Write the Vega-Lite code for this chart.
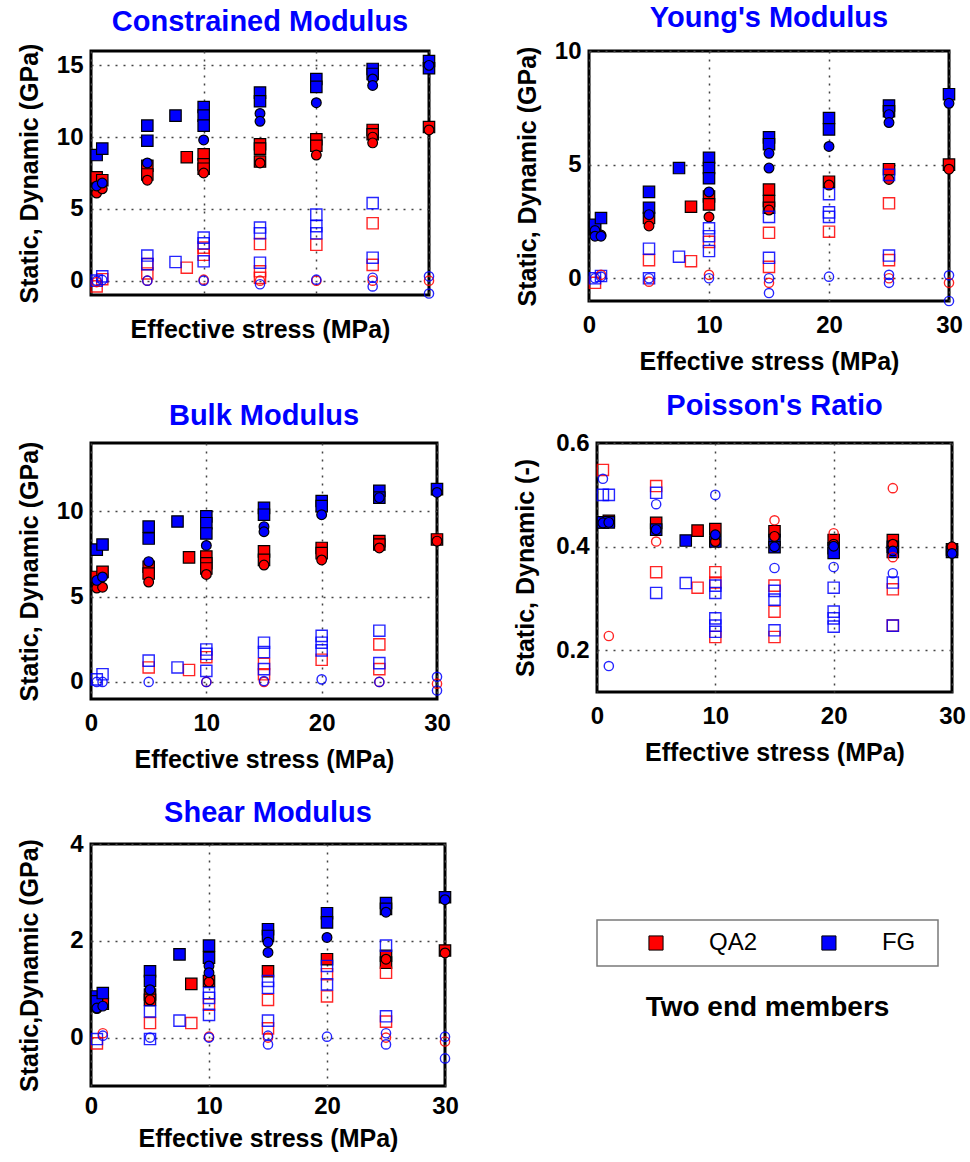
{
 "$schema": "https://vega.github.io/schema/vega-lite/v6.json",
 "padding": {"left": 15, "top": 2, "right": 0, "bottom": 0},
 "background": "white",
 "config": {
  "font": "Liberation Sans",
  "view": {"stroke": "black", "strokeWidth": 3},
  "title": {"fontSize": 29, "fontWeight": "bold", "color": "#0000ff", "offset": 6},
  "axis": {"labelFontSize": 24, "labelFontWeight": "bold", "labelColor": "black", "titleFontSize": 25, "titleFontWeight": "bold", "titleColor": "black", "domain": false, "ticks": false, "grid": true, "gridColor": "#444", "gridDash": [2, 6], "gridWidth": 1.5, "gridOpacity": 1, "labelPadding": 8, "titlePadding": 8, "labelFlush": false, "labelOverlap": false, "labelBound": false},
  "axisY": {"minExtent": 40, "maxExtent": 40, "titlePadding": 9}
 },
 "datasets": {"d": [
  {"p":"C","x":0.5,"y":7.2,"m":"QA2","k":"dsq"},{"p":"C","x":1,"y":7.0,"m":"QA2","k":"dsq"},{"p":"C","x":5,"y":8.0,"m":"QA2","k":"dsq"},{"p":"C","x":5,"y":7.4,"m":"QA2","k":"dsq"},{"p":"C","x":8.5,"y":8.6,"m":"QA2","k":"dsq"},{"p":"C","x":10,"y":8.8,"m":"QA2","k":"dsq"},{"p":"C","x":10,"y":8.1,"m":"QA2","k":"dsq"},{"p":"C","x":10,"y":7.8,"m":"QA2","k":"dsq"},{"p":"C","x":15,"y":9.5,"m":"QA2","k":"dsq"},{"p":"C","x":15,"y":9.2,"m":"QA2","k":"dsq"},{"p":"C","x":15,"y":8.3,"m":"QA2","k":"dsq"},{"p":"C","x":20,"y":9.85,"m":"QA2","k":"dsq"},{"p":"C","x":20,"y":9.4,"m":"QA2","k":"dsq"},{"p":"C","x":25,"y":10.5,"m":"QA2","k":"dsq"},{"p":"C","x":25,"y":10.2,"m":"QA2","k":"dsq"},{"p":"C","x":30,"y":10.7,"m":"QA2","k":"dsq"},
  {"p":"C","x":0.5,"y":6.1,"m":"QA2","k":"dci"},{"p":"C","x":1,"y":6.4,"m":"QA2","k":"dci"},{"p":"C","x":5,"y":7.0,"m":"QA2","k":"dci"},{"p":"C","x":10,"y":7.5,"m":"QA2","k":"dci"},{"p":"C","x":15,"y":8.2,"m":"QA2","k":"dci"},{"p":"C","x":20,"y":8.75,"m":"QA2","k":"dci"},{"p":"C","x":25,"y":10.0,"m":"QA2","k":"dci"},{"p":"C","x":25,"y":9.6,"m":"QA2","k":"dci"},{"p":"C","x":30,"y":10.5,"m":"QA2","k":"dci"},
  {"p":"C","x":0.5,"y":8.75,"m":"FG","k":"dsq"},{"p":"C","x":1,"y":9.2,"m":"FG","k":"dsq"},{"p":"C","x":5,"y":10.8,"m":"FG","k":"dsq"},{"p":"C","x":5,"y":9.75,"m":"FG","k":"dsq"},{"p":"C","x":7.5,"y":11.5,"m":"FG","k":"dsq"},{"p":"C","x":10,"y":12.1,"m":"FG","k":"dsq"},{"p":"C","x":10,"y":11.5,"m":"FG","k":"dsq"},{"p":"C","x":10,"y":10.8,"m":"FG","k":"dsq"},{"p":"C","x":15,"y":13.1,"m":"FG","k":"dsq"},{"p":"C","x":15,"y":12.5,"m":"FG","k":"dsq"},{"p":"C","x":20,"y":14.05,"m":"FG","k":"dsq"},{"p":"C","x":20,"y":13.5,"m":"FG","k":"dsq"},{"p":"C","x":25,"y":14.75,"m":"FG","k":"dsq"},{"p":"C","x":25,"y":14.4,"m":"FG","k":"dsq"},{"p":"C","x":30,"y":15.3,"m":"FG","k":"dsq"},{"p":"C","x":30,"y":14.8,"m":"FG","k":"dsq"},
  {"p":"C","x":0.5,"y":6.6,"m":"FG","k":"dci"},{"p":"C","x":1,"y":6.8,"m":"FG","k":"dci"},{"p":"C","x":5,"y":8.2,"m":"FG","k":"dci"},{"p":"C","x":10,"y":9.8,"m":"FG","k":"dci"},{"p":"C","x":15,"y":11.65,"m":"FG","k":"dci"},{"p":"C","x":15,"y":11.1,"m":"FG","k":"dci"},{"p":"C","x":20,"y":12.4,"m":"FG","k":"dci"},{"p":"C","x":25,"y":14.05,"m":"FG","k":"dci"},{"p":"C","x":25,"y":13.6,"m":"FG","k":"dci"},{"p":"C","x":30,"y":15.0,"m":"FG","k":"dci"},
  {"p":"C","x":0.5,"y":-0.4,"m":"QA2","k":"ssq"},{"p":"C","x":1,"y":0.1,"m":"QA2","k":"ssq"},{"p":"C","x":5,"y":1.15,"m":"QA2","k":"ssq"},{"p":"C","x":5,"y":0.5,"m":"QA2","k":"ssq"},{"p":"C","x":8.5,"y":0.9,"m":"QA2","k":"ssq"},{"p":"C","x":10,"y":2.3,"m":"QA2","k":"ssq"},{"p":"C","x":10,"y":1.8,"m":"QA2","k":"ssq"},{"p":"C","x":15,"y":2.55,"m":"QA2","k":"ssq"},{"p":"C","x":15,"y":0.65,"m":"QA2","k":"ssq"},{"p":"C","x":15,"y":0.2,"m":"QA2","k":"ssq"},{"p":"C","x":20,"y":2.5,"m":"QA2","k":"ssq"},{"p":"C","x":25,"y":4.0,"m":"QA2","k":"ssq"},{"p":"C","x":25,"y":1.1,"m":"QA2","k":"ssq"},
  {"p":"C","x":0.5,"y":0.0,"m":"FG","k":"ssq"},{"p":"C","x":1,"y":0.3,"m":"FG","k":"ssq"},{"p":"C","x":5,"y":1.75,"m":"FG","k":"ssq"},{"p":"C","x":5,"y":1.15,"m":"FG","k":"ssq"},{"p":"C","x":7.5,"y":1.3,"m":"FG","k":"ssq"},{"p":"C","x":10,"y":3.0,"m":"FG","k":"ssq"},{"p":"C","x":10,"y":2.6,"m":"FG","k":"ssq"},{"p":"C","x":10,"y":1.35,"m":"FG","k":"ssq"},{"p":"C","x":15,"y":3.7,"m":"FG","k":"ssq"},{"p":"C","x":15,"y":3.3,"m":"FG","k":"ssq"},{"p":"C","x":15,"y":1.25,"m":"FG","k":"ssq"},{"p":"C","x":20,"y":4.6,"m":"FG","k":"ssq"},{"p":"C","x":20,"y":3.8,"m":"FG","k":"ssq"},{"p":"C","x":20,"y":3.3,"m":"FG","k":"ssq"},{"p":"C","x":25,"y":5.4,"m":"FG","k":"ssq"},{"p":"C","x":25,"y":1.6,"m":"FG","k":"ssq"},
  {"p":"C","x":0.5,"y":-0.1,"m":"QA2","k":"sci"},{"p":"C","x":5,"y":0.0,"m":"QA2","k":"sci"},{"p":"C","x":10,"y":0.07,"m":"QA2","k":"sci"},{"p":"C","x":15,"y":0.0,"m":"QA2","k":"sci"},{"p":"C","x":20,"y":0.0,"m":"QA2","k":"sci"},{"p":"C","x":25,"y":0.0,"m":"QA2","k":"sci"},{"p":"C","x":30,"y":0.0,"m":"QA2","k":"sci"},
  {"p":"C","x":0.5,"y":0.0,"m":"FG","k":"sci"},{"p":"C","x":1,"y":0.05,"m":"FG","k":"sci"},{"p":"C","x":5,"y":0.0,"m":"FG","k":"sci"},{"p":"C","x":10,"y":0.0,"m":"FG","k":"sci"},{"p":"C","x":15,"y":-0.25,"m":"FG","k":"sci"},{"p":"C","x":20,"y":0.07,"m":"FG","k":"sci"},{"p":"C","x":25,"y":0.2,"m":"FG","k":"sci"},{"p":"C","x":25,"y":-0.4,"m":"FG","k":"sci"},{"p":"C","x":30,"y":0.3,"m":"FG","k":"sci"},{"p":"C","x":30,"y":-0.9,"m":"FG","k":"sci"},

  {"p":"Y","x":0.5,"y":2.2,"m":"QA2","k":"dsq"},{"p":"Y","x":5,"y":2.65,"m":"QA2","k":"dsq"},{"p":"Y","x":8.5,"y":3.15,"m":"QA2","k":"dsq"},{"p":"Y","x":10,"y":3.6,"m":"QA2","k":"dsq"},{"p":"Y","x":10,"y":3.25,"m":"QA2","k":"dsq"},{"p":"Y","x":15,"y":3.9,"m":"QA2","k":"dsq"},{"p":"Y","x":15,"y":3.4,"m":"QA2","k":"dsq"},{"p":"Y","x":15,"y":3.1,"m":"QA2","k":"dsq"},{"p":"Y","x":20,"y":4.25,"m":"QA2","k":"dsq"},{"p":"Y","x":25,"y":4.8,"m":"QA2","k":"dsq"},{"p":"Y","x":30,"y":5.0,"m":"QA2","k":"dsq"},
  {"p":"Y","x":0.5,"y":2.0,"m":"QA2","k":"dci"},{"p":"Y","x":1,"y":1.9,"m":"QA2","k":"dci"},{"p":"Y","x":5,"y":2.3,"m":"QA2","k":"dci"},{"p":"Y","x":10,"y":2.7,"m":"QA2","k":"dci"},{"p":"Y","x":15,"y":3.0,"m":"QA2","k":"dci"},{"p":"Y","x":20,"y":4.1,"m":"QA2","k":"dci"},{"p":"Y","x":25,"y":4.35,"m":"QA2","k":"dci"},{"p":"Y","x":30,"y":4.8,"m":"QA2","k":"dci"},
  {"p":"Y","x":0.5,"y":2.35,"m":"FG","k":"dsq"},{"p":"Y","x":1,"y":2.65,"m":"FG","k":"dsq"},{"p":"Y","x":5,"y":3.8,"m":"FG","k":"dsq"},{"p":"Y","x":5,"y":3.1,"m":"FG","k":"dsq"},{"p":"Y","x":7.5,"y":4.85,"m":"FG","k":"dsq"},{"p":"Y","x":10,"y":5.3,"m":"FG","k":"dsq"},{"p":"Y","x":10,"y":4.85,"m":"FG","k":"dsq"},{"p":"Y","x":10,"y":4.4,"m":"FG","k":"dsq"},{"p":"Y","x":15,"y":6.2,"m":"FG","k":"dsq"},{"p":"Y","x":15,"y":5.9,"m":"FG","k":"dsq"},{"p":"Y","x":20,"y":7.05,"m":"FG","k":"dsq"},{"p":"Y","x":20,"y":6.55,"m":"FG","k":"dsq"},{"p":"Y","x":25,"y":7.6,"m":"FG","k":"dsq"},{"p":"Y","x":25,"y":7.35,"m":"FG","k":"dsq"},{"p":"Y","x":30,"y":8.1,"m":"FG","k":"dsq"},
  {"p":"Y","x":0.5,"y":2.1,"m":"FG","k":"dci"},{"p":"Y","x":0.5,"y":1.85,"m":"FG","k":"dci"},{"p":"Y","x":1,"y":1.85,"m":"FG","k":"dci"},{"p":"Y","x":5,"y":2.8,"m":"FG","k":"dci"},{"p":"Y","x":10,"y":3.8,"m":"FG","k":"dci"},{"p":"Y","x":15,"y":5.5,"m":"FG","k":"dci"},{"p":"Y","x":15,"y":4.85,"m":"FG","k":"dci"},{"p":"Y","x":20,"y":5.8,"m":"FG","k":"dci"},{"p":"Y","x":25,"y":7.2,"m":"FG","k":"dci"},{"p":"Y","x":25,"y":6.85,"m":"FG","k":"dci"},{"p":"Y","x":30,"y":7.7,"m":"FG","k":"dci"},
  {"p":"Y","x":0.5,"y":-0.2,"m":"QA2","k":"ssq"},{"p":"Y","x":5,"y":0.8,"m":"QA2","k":"ssq"},{"p":"Y","x":8.5,"y":0.75,"m":"QA2","k":"ssq"},{"p":"Y","x":10,"y":1.6,"m":"QA2","k":"ssq"},{"p":"Y","x":15,"y":2.0,"m":"QA2","k":"ssq"},{"p":"Y","x":15,"y":0.5,"m":"QA2","k":"ssq"},{"p":"Y","x":20,"y":2.05,"m":"QA2","k":"ssq"},{"p":"Y","x":25,"y":3.3,"m":"QA2","k":"ssq"},{"p":"Y","x":25,"y":0.8,"m":"QA2","k":"ssq"},
  {"p":"Y","x":0.5,"y":0.0,"m":"FG","k":"ssq"},{"p":"Y","x":1,"y":0.1,"m":"FG","k":"ssq"},{"p":"Y","x":5,"y":1.3,"m":"FG","k":"ssq"},{"p":"Y","x":5,"y":0.0,"m":"FG","k":"ssq"},{"p":"Y","x":7.5,"y":0.95,"m":"FG","k":"ssq"},{"p":"Y","x":10,"y":2.2,"m":"FG","k":"ssq"},{"p":"Y","x":10,"y":1.85,"m":"FG","k":"ssq"},{"p":"Y","x":10,"y":1.2,"m":"FG","k":"ssq"},{"p":"Y","x":15,"y":2.7,"m":"FG","k":"ssq"},{"p":"Y","x":15,"y":0.9,"m":"FG","k":"ssq"},{"p":"Y","x":20,"y":3.7,"m":"FG","k":"ssq"},{"p":"Y","x":20,"y":2.9,"m":"FG","k":"ssq"},{"p":"Y","x":20,"y":2.7,"m":"FG","k":"ssq"},{"p":"Y","x":25,"y":4.55,"m":"FG","k":"ssq"},{"p":"Y","x":25,"y":1.0,"m":"FG","k":"ssq"},
  {"p":"Y","x":1,"y":0.15,"m":"QA2","k":"sci"},{"p":"Y","x":5,"y":-0.15,"m":"QA2","k":"sci"},{"p":"Y","x":10,"y":0.15,"m":"QA2","k":"sci"},{"p":"Y","x":15,"y":-0.2,"m":"QA2","k":"sci"},{"p":"Y","x":25,"y":0.0,"m":"QA2","k":"sci"},{"p":"Y","x":30,"y":-0.2,"m":"QA2","k":"sci"},
  {"p":"Y","x":0.5,"y":0.0,"m":"FG","k":"sci"},{"p":"Y","x":1,"y":0.07,"m":"FG","k":"sci"},{"p":"Y","x":5,"y":0.0,"m":"FG","k":"sci"},{"p":"Y","x":10,"y":0.0,"m":"FG","k":"sci"},{"p":"Y","x":15,"y":0.0,"m":"FG","k":"sci"},{"p":"Y","x":15,"y":-0.65,"m":"FG","k":"sci"},{"p":"Y","x":20,"y":0.07,"m":"FG","k":"sci"},{"p":"Y","x":25,"y":0.15,"m":"FG","k":"sci"},{"p":"Y","x":25,"y":-0.2,"m":"FG","k":"sci"},{"p":"Y","x":30,"y":0.13,"m":"FG","k":"sci"},{"p":"Y","x":30,"y":-1.0,"m":"FG","k":"sci"},

  {"p":"B","x":0.5,"y":6.15,"m":"QA2","k":"dsq"},{"p":"B","x":1,"y":6.45,"m":"QA2","k":"dsq"},{"p":"B","x":5,"y":6.75,"m":"QA2","k":"dsq"},{"p":"B","x":5,"y":6.35,"m":"QA2","k":"dsq"},{"p":"B","x":8.5,"y":7.3,"m":"QA2","k":"dsq"},{"p":"B","x":10,"y":7.35,"m":"QA2","k":"dsq"},{"p":"B","x":10,"y":6.95,"m":"QA2","k":"dsq"},{"p":"B","x":10,"y":6.65,"m":"QA2","k":"dsq"},{"p":"B","x":15,"y":7.65,"m":"QA2","k":"dsq"},{"p":"B","x":15,"y":7.15,"m":"QA2","k":"dsq"},{"p":"B","x":20,"y":7.85,"m":"QA2","k":"dsq"},{"p":"B","x":20,"y":7.55,"m":"QA2","k":"dsq"},{"p":"B","x":25,"y":8.25,"m":"QA2","k":"dsq"},{"p":"B","x":25,"y":8.05,"m":"QA2","k":"dsq"},{"p":"B","x":30,"y":8.35,"m":"QA2","k":"dsq"},
  {"p":"B","x":0.5,"y":5.75,"m":"QA2","k":"dci"},{"p":"B","x":0.5,"y":5.5,"m":"QA2","k":"dci"},{"p":"B","x":1,"y":5.55,"m":"QA2","k":"dci"},{"p":"B","x":5,"y":5.85,"m":"QA2","k":"dci"},{"p":"B","x":10,"y":6.3,"m":"QA2","k":"dci"},{"p":"B","x":15,"y":6.85,"m":"QA2","k":"dci"},{"p":"B","x":20,"y":7.15,"m":"QA2","k":"dci"},{"p":"B","x":25,"y":7.85,"m":"QA2","k":"dci"},{"p":"B","x":30,"y":8.25,"m":"QA2","k":"dci"},
  {"p":"B","x":0.5,"y":7.75,"m":"FG","k":"dsq"},{"p":"B","x":1,"y":8.05,"m":"FG","k":"dsq"},{"p":"B","x":5,"y":9.1,"m":"FG","k":"dsq"},{"p":"B","x":5,"y":8.4,"m":"FG","k":"dsq"},{"p":"B","x":7.5,"y":9.4,"m":"FG","k":"dsq"},{"p":"B","x":10,"y":9.7,"m":"FG","k":"dsq"},{"p":"B","x":10,"y":9.3,"m":"FG","k":"dsq"},{"p":"B","x":10,"y":8.7,"m":"FG","k":"dsq"},{"p":"B","x":15,"y":10.2,"m":"FG","k":"dsq"},{"p":"B","x":15,"y":9.8,"m":"FG","k":"dsq"},{"p":"B","x":20,"y":10.6,"m":"FG","k":"dsq"},{"p":"B","x":20,"y":10.3,"m":"FG","k":"dsq"},{"p":"B","x":25,"y":11.2,"m":"FG","k":"dsq"},{"p":"B","x":25,"y":10.8,"m":"FG","k":"dsq"},{"p":"B","x":30,"y":11.3,"m":"FG","k":"dsq"},
  {"p":"B","x":0.5,"y":5.95,"m":"FG","k":"dci"},{"p":"B","x":1,"y":6.15,"m":"FG","k":"dci"},{"p":"B","x":5,"y":7.05,"m":"FG","k":"dci"},{"p":"B","x":10,"y":8.0,"m":"FG","k":"dci"},{"p":"B","x":15,"y":9.1,"m":"FG","k":"dci"},{"p":"B","x":15,"y":8.8,"m":"FG","k":"dci"},{"p":"B","x":20,"y":9.8,"m":"FG","k":"dci"},{"p":"B","x":25,"y":10.8,"m":"FG","k":"dci"},{"p":"B","x":30,"y":11.1,"m":"FG","k":"dci"},
  {"p":"B","x":5,"y":0.85,"m":"QA2","k":"ssq"},{"p":"B","x":8.5,"y":0.7,"m":"QA2","k":"ssq"},{"p":"B","x":10,"y":1.45,"m":"QA2","k":"ssq"},{"p":"B","x":15,"y":1.05,"m":"QA2","k":"ssq"},{"p":"B","x":15,"y":0.45,"m":"QA2","k":"ssq"},{"p":"B","x":20,"y":1.3,"m":"QA2","k":"ssq"},{"p":"B","x":25,"y":2.2,"m":"QA2","k":"ssq"},{"p":"B","x":25,"y":0.75,"m":"QA2","k":"ssq"},
  {"p":"B","x":0.5,"y":0.15,"m":"FG","k":"ssq"},{"p":"B","x":1,"y":0.45,"m":"FG","k":"ssq"},{"p":"B","x":5,"y":1.25,"m":"FG","k":"ssq"},{"p":"B","x":7.5,"y":0.85,"m":"FG","k":"ssq"},{"p":"B","x":10,"y":1.9,"m":"FG","k":"ssq"},{"p":"B","x":10,"y":1.65,"m":"FG","k":"ssq"},{"p":"B","x":10,"y":0.65,"m":"FG","k":"ssq"},{"p":"B","x":15,"y":2.3,"m":"FG","k":"ssq"},{"p":"B","x":15,"y":1.75,"m":"FG","k":"ssq"},{"p":"B","x":15,"y":0.75,"m":"FG","k":"ssq"},{"p":"B","x":20,"y":2.7,"m":"FG","k":"ssq"},{"p":"B","x":20,"y":2.3,"m":"FG","k":"ssq"},{"p":"B","x":20,"y":1.85,"m":"FG","k":"ssq"},{"p":"B","x":25,"y":3.0,"m":"FG","k":"ssq"},{"p":"B","x":25,"y":1.1,"m":"FG","k":"ssq"},
  {"p":"B","x":10,"y":0.0,"m":"QA2","k":"sci"},{"p":"B","x":15,"y":0.0,"m":"QA2","k":"sci"},{"p":"B","x":25,"y":0.0,"m":"QA2","k":"sci"},{"p":"B","x":30,"y":-0.1,"m":"QA2","k":"sci"},
  {"p":"B","x":0.5,"y":0.0,"m":"FG","k":"sci"},{"p":"B","x":1,"y":0.0,"m":"FG","k":"sci"},{"p":"B","x":5,"y":0.0,"m":"FG","k":"sci"},{"p":"B","x":10,"y":0.0,"m":"FG","k":"sci"},{"p":"B","x":15,"y":0.05,"m":"FG","k":"sci"},{"p":"B","x":20,"y":0.15,"m":"FG","k":"sci"},{"p":"B","x":25,"y":0.0,"m":"FG","k":"sci"},{"p":"B","x":30,"y":0.3,"m":"FG","k":"sci"},{"p":"B","x":30,"y":-0.5,"m":"FG","k":"sci"},

  {"p":"P","x":0.5,"y":0.447,"m":"QA2","k":"dsq"},{"p":"P","x":1,"y":0.45,"m":"QA2","k":"dsq"},{"p":"P","x":5,"y":0.446,"m":"QA2","k":"dsq"},{"p":"P","x":8.5,"y":0.431,"m":"QA2","k":"dsq"},{"p":"P","x":10,"y":0.434,"m":"QA2","k":"dsq"},{"p":"P","x":15,"y":0.43,"m":"QA2","k":"dsq"},{"p":"P","x":20,"y":0.413,"m":"QA2","k":"dsq"},{"p":"P","x":25,"y":0.413,"m":"QA2","k":"dsq"},{"p":"P","x":30,"y":0.395,"m":"QA2","k":"dsq"},
  {"p":"P","x":10,"y":0.41,"m":"QA2","k":"dci"},{"p":"P","x":15,"y":0.42,"m":"QA2","k":"dci"},{"p":"P","x":20,"y":0.405,"m":"QA2","k":"dci"},{"p":"P","x":25,"y":0.405,"m":"QA2","k":"dci"},{"p":"P","x":30,"y":0.4,"m":"QA2","k":"dci"},
  {"p":"P","x":0.5,"y":0.447,"m":"FG","k":"dsq"},{"p":"P","x":1,"y":0.447,"m":"FG","k":"dsq"},{"p":"P","x":5,"y":0.433,"m":"FG","k":"dsq"},{"p":"P","x":7.5,"y":0.412,"m":"FG","k":"dsq"},{"p":"P","x":10,"y":0.41,"m":"FG","k":"dsq"},{"p":"P","x":15,"y":0.413,"m":"FG","k":"dsq"},{"p":"P","x":15,"y":0.399,"m":"FG","k":"dsq"},{"p":"P","x":20,"y":0.397,"m":"FG","k":"dsq"},{"p":"P","x":20,"y":0.388,"m":"FG","k":"dsq"},{"p":"P","x":25,"y":0.4,"m":"FG","k":"dsq"},{"p":"P","x":25,"y":0.39,"m":"FG","k":"dsq"},{"p":"P","x":30,"y":0.39,"m":"FG","k":"dsq"},
  {"p":"P","x":0.5,"y":0.446,"m":"FG","k":"dci"},{"p":"P","x":1,"y":0.447,"m":"FG","k":"dci"},{"p":"P","x":5,"y":0.433,"m":"FG","k":"dci"},{"p":"P","x":10,"y":0.423,"m":"FG","k":"dci"},{"p":"P","x":15,"y":0.4,"m":"FG","k":"dci"},{"p":"P","x":20,"y":0.401,"m":"FG","k":"dci"},{"p":"P","x":25,"y":0.392,"m":"FG","k":"dci"},{"p":"P","x":30,"y":0.387,"m":"FG","k":"dci"},
  {"p":"P","x":0.5,"y":0.548,"m":"QA2","k":"ssq"},{"p":"P","x":5,"y":0.517,"m":"QA2","k":"ssq"},{"p":"P","x":5,"y":0.351,"m":"QA2","k":"ssq"},{"p":"P","x":8.5,"y":0.321,"m":"QA2","k":"ssq"},{"p":"P","x":10,"y":0.351,"m":"QA2","k":"ssq"},{"p":"P","x":10,"y":0.331,"m":"QA2","k":"ssq"},{"p":"P","x":10,"y":0.226,"m":"QA2","k":"ssq"},{"p":"P","x":15,"y":0.325,"m":"QA2","k":"ssq"},{"p":"P","x":15,"y":0.275,"m":"QA2","k":"ssq"},{"p":"P","x":15,"y":0.226,"m":"QA2","k":"ssq"},{"p":"P","x":25,"y":0.318,"m":"QA2","k":"ssq"},{"p":"P","x":25,"y":0.248,"m":"QA2","k":"ssq"},
  {"p":"P","x":0.5,"y":0.5,"m":"FG","k":"ssq"},{"p":"P","x":1,"y":0.5,"m":"FG","k":"ssq"},{"p":"P","x":5,"y":0.504,"m":"FG","k":"ssq"},{"p":"P","x":5,"y":0.311,"m":"FG","k":"ssq"},{"p":"P","x":7.5,"y":0.33,"m":"FG","k":"ssq"},{"p":"P","x":10,"y":0.325,"m":"FG","k":"ssq"},{"p":"P","x":10,"y":0.311,"m":"FG","k":"ssq"},{"p":"P","x":10,"y":0.262,"m":"FG","k":"ssq"},{"p":"P","x":10,"y":0.248,"m":"FG","k":"ssq"},{"p":"P","x":10,"y":0.236,"m":"FG","k":"ssq"},{"p":"P","x":15,"y":0.315,"m":"FG","k":"ssq"},{"p":"P","x":15,"y":0.298,"m":"FG","k":"ssq"},{"p":"P","x":15,"y":0.239,"m":"FG","k":"ssq"},{"p":"P","x":20,"y":0.321,"m":"FG","k":"ssq"},{"p":"P","x":20,"y":0.275,"m":"FG","k":"ssq"},{"p":"P","x":20,"y":0.262,"m":"FG","k":"ssq"},{"p":"P","x":20,"y":0.246,"m":"FG","k":"ssq"},{"p":"P","x":25,"y":0.331,"m":"FG","k":"ssq"},{"p":"P","x":25,"y":0.248,"m":"FG","k":"ssq"},
  {"p":"P","x":1,"y":0.228,"m":"QA2","k":"sci"},{"p":"P","x":5,"y":0.41,"m":"QA2","k":"sci"},{"p":"P","x":15,"y":0.451,"m":"QA2","k":"sci"},{"p":"P","x":20,"y":0.426,"m":"QA2","k":"sci"},{"p":"P","x":25,"y":0.513,"m":"QA2","k":"sci"},{"p":"P","x":25,"y":0.38,"m":"QA2","k":"sci"},
  {"p":"P","x":0.5,"y":0.531,"m":"FG","k":"sci"},{"p":"P","x":1,"y":0.17,"m":"FG","k":"sci"},{"p":"P","x":5,"y":0.482,"m":"FG","k":"sci"},{"p":"P","x":10,"y":0.5,"m":"FG","k":"sci"},{"p":"P","x":15,"y":0.359,"m":"FG","k":"sci"},{"p":"P","x":20,"y":0.361,"m":"FG","k":"sci"},{"p":"P","x":25,"y":0.349,"m":"FG","k":"sci"},

  {"p":"S","x":1,"y":0.7,"m":"QA2","k":"dsq"},{"p":"S","x":5,"y":0.89,"m":"QA2","k":"dsq"},{"p":"S","x":5,"y":0.78,"m":"QA2","k":"dsq"},{"p":"S","x":8.5,"y":1.11,"m":"QA2","k":"dsq"},{"p":"S","x":10,"y":1.17,"m":"QA2","k":"dsq"},{"p":"S","x":15,"y":1.37,"m":"QA2","k":"dsq"},{"p":"S","x":20,"y":1.62,"m":"QA2","k":"dsq"},{"p":"S","x":25,"y":1.69,"m":"QA2","k":"dsq"},{"p":"S","x":25,"y":1.55,"m":"QA2","k":"dsq"},{"p":"S","x":30,"y":1.8,"m":"QA2","k":"dsq"},
  {"p":"S","x":0.5,"y":0.6,"m":"QA2","k":"dci"},{"p":"S","x":5,"y":0.78,"m":"QA2","k":"dci"},{"p":"S","x":10,"y":1.15,"m":"QA2","k":"dci"},{"p":"S","x":25,"y":1.62,"m":"QA2","k":"dci"},{"p":"S","x":30,"y":1.75,"m":"QA2","k":"dci"},
  {"p":"S","x":0.5,"y":0.85,"m":"FG","k":"dsq"},{"p":"S","x":0.5,"y":0.75,"m":"FG","k":"dsq"},{"p":"S","x":1,"y":0.92,"m":"FG","k":"dsq"},{"p":"S","x":5,"y":1.37,"m":"FG","k":"dsq"},{"p":"S","x":5,"y":1.17,"m":"FG","k":"dsq"},{"p":"S","x":7.5,"y":1.72,"m":"FG","k":"dsq"},{"p":"S","x":10,"y":1.9,"m":"FG","k":"dsq"},{"p":"S","x":10,"y":1.65,"m":"FG","k":"dsq"},{"p":"S","x":15,"y":2.24,"m":"FG","k":"dsq"},{"p":"S","x":15,"y":2.1,"m":"FG","k":"dsq"},{"p":"S","x":20,"y":2.57,"m":"FG","k":"dsq"},{"p":"S","x":20,"y":2.38,"m":"FG","k":"dsq"},{"p":"S","x":25,"y":2.78,"m":"FG","k":"dsq"},{"p":"S","x":25,"y":2.66,"m":"FG","k":"dsq"},{"p":"S","x":30,"y":2.9,"m":"FG","k":"dsq"},
  {"p":"S","x":0.5,"y":0.61,"m":"FG","k":"dci"},{"p":"S","x":1,"y":0.65,"m":"FG","k":"dci"},{"p":"S","x":5,"y":0.99,"m":"FG","k":"dci"},{"p":"S","x":10,"y":1.48,"m":"FG","k":"dci"},{"p":"S","x":10,"y":1.34,"m":"FG","k":"dci"},{"p":"S","x":15,"y":1.97,"m":"FG","k":"dci"},{"p":"S","x":15,"y":1.76,"m":"FG","k":"dci"},{"p":"S","x":20,"y":2.07,"m":"FG","k":"dci"},{"p":"S","x":25,"y":2.59,"m":"FG","k":"dci"},{"p":"S","x":30,"y":2.85,"m":"FG","k":"dci"},
  {"p":"S","x":0.5,"y":-0.12,"m":"QA2","k":"ssq"},{"p":"S","x":5,"y":0.3,"m":"QA2","k":"ssq"},{"p":"S","x":8.5,"y":0.3,"m":"QA2","k":"ssq"},{"p":"S","x":10,"y":0.68,"m":"QA2","k":"ssq"},{"p":"S","x":15,"y":0.78,"m":"QA2","k":"ssq"},{"p":"S","x":15,"y":0.19,"m":"QA2","k":"ssq"},{"p":"S","x":20,"y":1.31,"m":"QA2","k":"ssq"},{"p":"S","x":20,"y":0.85,"m":"QA2","k":"ssq"},{"p":"S","x":25,"y":1.34,"m":"QA2","k":"ssq"},{"p":"S","x":25,"y":0.33,"m":"QA2","k":"ssq"},
  {"p":"S","x":0.5,"y":-0.03,"m":"FG","k":"ssq"},{"p":"S","x":5,"y":0.54,"m":"FG","k":"ssq"},{"p":"S","x":5,"y":-0.03,"m":"FG","k":"ssq"},{"p":"S","x":7.5,"y":0.35,"m":"FG","k":"ssq"},{"p":"S","x":10,"y":0.92,"m":"FG","k":"ssq"},{"p":"S","x":10,"y":0.82,"m":"FG","k":"ssq"},{"p":"S","x":10,"y":0.47,"m":"FG","k":"ssq"},{"p":"S","x":15,"y":1.17,"m":"FG","k":"ssq"},{"p":"S","x":15,"y":1.03,"m":"FG","k":"ssq"},{"p":"S","x":15,"y":0.35,"m":"FG","k":"ssq"},{"p":"S","x":20,"y":1.48,"m":"FG","k":"ssq"},{"p":"S","x":20,"y":1.1,"m":"FG","k":"ssq"},{"p":"S","x":25,"y":1.9,"m":"FG","k":"ssq"},{"p":"S","x":25,"y":0.44,"m":"FG","k":"ssq"},
  {"p":"S","x":1,"y":0.09,"m":"QA2","k":"sci"},{"p":"S","x":10,"y":0.02,"m":"QA2","k":"sci"},{"p":"S","x":15,"y":0.0,"m":"QA2","k":"sci"},{"p":"S","x":25,"y":0.0,"m":"QA2","k":"sci"},{"p":"S","x":30,"y":-0.08,"m":"QA2","k":"sci"},
  {"p":"S","x":1,"y":0.04,"m":"FG","k":"sci"},{"p":"S","x":5,"y":0.0,"m":"FG","k":"sci"},{"p":"S","x":10,"y":0.0,"m":"FG","k":"sci"},{"p":"S","x":15,"y":0.04,"m":"FG","k":"sci"},{"p":"S","x":15,"y":-0.14,"m":"FG","k":"sci"},{"p":"S","x":20,"y":0.02,"m":"FG","k":"sci"},{"p":"S","x":25,"y":0.09,"m":"FG","k":"sci"},{"p":"S","x":25,"y":-0.14,"m":"FG","k":"sci"},{"p":"S","x":30,"y":0.02,"m":"FG","k":"sci"},{"p":"S","x":30,"y":-0.43,"m":"FG","k":"sci"}
 ]},
 "spacing": 14,
 "vconcat": [
  {"hconcat": [
   {"width": 338, "height": 244, "title": "Constrained Modulus", "data": {"name": "d"},
    "transform": [{"filter": "datum.p == 'C'"}],
    "encoding": {
     "x": {"field": "x", "type": "quantitative", "scale": {"domain": [0, 30], "nice": false}, "axis": {"values": [0, 10, 20, 30], "labels": false, "titlePadding": 22, "title": "Effective stress (MPa)"}},
     "y": {"field": "y", "type": "quantitative", "scale": {"domain": [-1, 16], "nice": false, "zero": false}, "axis": {"values": [0, 5, 10, 15], "title": "Static, Dynamic (GPa)"}},
     "color": {"field": "m", "type": "nominal", "scale": {"domain": ["QA2", "FG"], "range": ["#ff0000", "#0000ff"]}, "legend": null}
    },
    "layer": [
     {"transform": [{"filter": "datum.k == 'dsq'"}], "mark": {"type": "point", "shape": "square", "filled": true, "stroke": "black", "strokeWidth": 1.2, "size": 130, "opacity": 1}},
     {"transform": [{"filter": "datum.k == 'dci'"}], "mark": {"type": "point", "shape": "circle", "filled": true, "stroke": "black", "strokeWidth": 1.2, "size": 95, "opacity": 1}},
     {"transform": [{"filter": "datum.k == 'ssq'"}], "mark": {"type": "point", "shape": "square", "filled": false, "strokeWidth": 1.4, "size": 125, "opacity": 0.85}},
     {"transform": [{"filter": "datum.k == 'sci'"}], "mark": {"type": "point", "shape": "circle", "filled": false, "strokeWidth": 1.4, "size": 85, "opacity": 0.85}}
    ]},
   {"width": 360, "height": 250, "title": "Young's Modulus", "data": {"name": "d"},
    "transform": [{"filter": "datum.p == 'Y'"}],
    "encoding": {
     "x": {"field": "x", "type": "quantitative", "scale": {"domain": [0, 30], "nice": false}, "axis": {"values": [0, 10, 20, 30], "labelPadding": 12, "titlePadding": 12, "title": "Effective stress (MPa)"}},
     "y": {"field": "y", "type": "quantitative", "scale": {"domain": [-1, 10], "nice": false, "zero": false}, "axis": {"values": [0, 5, 10], "title": "Static, Dynamic (GPa)"}},
     "color": {"field": "m", "type": "nominal", "scale": {"domain": ["QA2", "FG"], "range": ["#ff0000", "#0000ff"]}, "legend": null}
    },
    "layer": [
     {"transform": [{"filter": "datum.k == 'dsq'"}], "mark": {"type": "point", "shape": "square", "filled": true, "stroke": "black", "strokeWidth": 1.2, "size": 130, "opacity": 1}},
     {"transform": [{"filter": "datum.k == 'dci'"}], "mark": {"type": "point", "shape": "circle", "filled": true, "stroke": "black", "strokeWidth": 1.2, "size": 95, "opacity": 1}},
     {"transform": [{"filter": "datum.k == 'ssq'"}], "mark": {"type": "point", "shape": "square", "filled": false, "strokeWidth": 1.4, "size": 125, "opacity": 0.85}},
     {"transform": [{"filter": "datum.k == 'sci'"}], "mark": {"type": "point", "shape": "circle", "filled": false, "strokeWidth": 1.4, "size": 85, "opacity": 0.85}}
    ]}
  ], "spacing": 74},
  {"hconcat": [
   {"vconcat": [
    {"width": 346, "height": 256, "title": {"text": "Bulk Modulus", "offset": 10}, "data": {"name": "d"},
     "transform": [{"filter": "datum.p == 'B'"}],
     "encoding": {
      "x": {"field": "x", "type": "quantitative", "scale": {"domain": [0, 30], "nice": false}, "axis": {"values": [0, 10, 20, 30], "labelPadding": 12, "titlePadding": 12, "title": "Effective stress (MPa)"}},
      "y": {"field": "y", "type": "quantitative", "scale": {"domain": [-1, 14], "nice": false, "zero": false}, "axis": {"values": [0, 5, 10], "title": "Static, Dynamic (GPa)"}},
      "color": {"field": "m", "type": "nominal", "scale": {"domain": ["QA2", "FG"], "range": ["#ff0000", "#0000ff"]}, "legend": null}
     },
     "layer": [
      {"transform": [{"filter": "datum.k == 'dsq'"}], "mark": {"type": "point", "shape": "square", "filled": true, "stroke": "black", "strokeWidth": 1.2, "size": 130, "opacity": 1}},
      {"transform": [{"filter": "datum.k == 'dci'"}], "mark": {"type": "point", "shape": "circle", "filled": true, "stroke": "black", "strokeWidth": 1.2, "size": 95, "opacity": 1}},
      {"transform": [{"filter": "datum.k == 'ssq'"}], "mark": {"type": "point", "shape": "square", "filled": false, "strokeWidth": 1.4, "size": 125, "opacity": 0.85}},
      {"transform": [{"filter": "datum.k == 'sci'"}], "mark": {"type": "point", "shape": "circle", "filled": false, "strokeWidth": 1.4, "size": 85, "opacity": 0.85}}
     ]},
    {"width": 354, "height": 242, "title": {"text": "Shear Modulus", "offset": 4}, "data": {"name": "d"},
     "transform": [{"filter": "datum.p == 'S'"}],
     "encoding": {
      "x": {"field": "x", "type": "quantitative", "scale": {"domain": [0, 30], "nice": false}, "axis": {"values": [0, 10, 20, 30], "title": "Effective stress (MPa)"}},
      "y": {"field": "y", "type": "quantitative", "scale": {"domain": [-1, 4], "nice": false, "zero": false}, "axis": {"values": [0, 2, 4], "title": "Static,Dynamic (GPa)"}},
      "color": {"field": "m", "type": "nominal", "scale": {"domain": ["QA2", "FG"], "range": ["#ff0000", "#0000ff"]}, "legend": null}
     },
     "layer": [
      {"transform": [{"filter": "datum.k == 'dsq'"}], "mark": {"type": "point", "shape": "square", "filled": true, "stroke": "black", "strokeWidth": 1.2, "size": 130, "opacity": 1}},
      {"transform": [{"filter": "datum.k == 'dci'"}], "mark": {"type": "point", "shape": "circle", "filled": true, "stroke": "black", "strokeWidth": 1.2, "size": 95, "opacity": 1}},
      {"transform": [{"filter": "datum.k == 'ssq'"}], "mark": {"type": "point", "shape": "square", "filled": false, "strokeWidth": 1.4, "size": 125, "opacity": 0.85}},
      {"transform": [{"filter": "datum.k == 'sci'"}], "mark": {"type": "point", "shape": "circle", "filled": false, "strokeWidth": 1.4, "size": 85, "opacity": 0.85}}
     ]}
   ], "spacing": 23},
   {"vconcat": [
    {"width": 355, "height": 249, "title": {"text": "Poisson's Ratio", "offset": 10}, "data": {"name": "d"},
     "transform": [{"filter": "datum.p == 'P'"}],
     "encoding": {
      "x": {"field": "x", "type": "quantitative", "scale": {"domain": [0, 30], "nice": false}, "axis": {"values": [0, 10, 20, 30], "labelPadding": 12, "titlePadding": 12, "title": "Effective stress (MPa)"}},
      "y": {"field": "y", "type": "quantitative", "scale": {"domain": [0.12, 0.6], "nice": false, "zero": false}, "axis": {"values": [0.2, 0.4, 0.6], "format": ".1f", "title": "Static, Dynamic (-)", "minExtent": 50, "maxExtent": 50}},
      "color": {"field": "m", "type": "nominal", "scale": {"domain": ["QA2", "FG"], "range": ["#ff0000", "#0000ff"]}, "legend": null}
     },
     "layer": [
      {"transform": [{"filter": "datum.k == 'dsq'"}], "mark": {"type": "point", "shape": "square", "filled": true, "stroke": "black", "strokeWidth": 1.2, "size": 130, "opacity": 1}},
      {"transform": [{"filter": "datum.k == 'dci'"}], "mark": {"type": "point", "shape": "circle", "filled": true, "stroke": "black", "strokeWidth": 1.2, "size": 95, "opacity": 1}},
      {"transform": [{"filter": "datum.k == 'ssq'"}], "mark": {"type": "point", "shape": "square", "filled": false, "strokeWidth": 1.4, "size": 125, "opacity": 0.85}},
      {"transform": [{"filter": "datum.k == 'sci'"}], "mark": {"type": "point", "shape": "circle", "filled": false, "strokeWidth": 1.4, "size": 85, "opacity": 0.85}}
     ]},
    {"width": 341, "height": 46,
     "view": {"stroke": "#7a7a7a", "strokeWidth": 1.5},
     "title": {"text": "Two end members", "orient": "bottom", "color": "black", "fontSize": 28, "fontWeight": "bold", "offset": 28, "anchor": "middle"},
     "data": {"values": [{"m": "QA2"}, {"m": "FG"}]},
     "encoding": {
      "x": {"field": "m", "type": "nominal", "sort": null, "scale": {"type": "point", "domain": ["QA2", "FG"], "padding": 0.486, "align": 0.351}, "axis": null},
      "color": {"field": "m", "type": "nominal", "scale": {"domain": ["QA2", "FG"], "range": ["#ff0000", "#0000ff"]}, "legend": null}
     },
     "layer": [
      {"mark": {"type": "point", "shape": "square", "filled": true, "stroke": "black", "strokeWidth": 1, "size": 200, "opacity": 1}},
      {"mark": {"type": "text", "align": "left", "baseline": "middle", "dx": 53, "fontSize": 24}, "encoding": {"text": {"field": "m"}, "color": {"value": "black"}}}
     ]}
   ], "spacing": 228, "bounds": "flush"}
  ], "spacing": 51}
 ]
}
